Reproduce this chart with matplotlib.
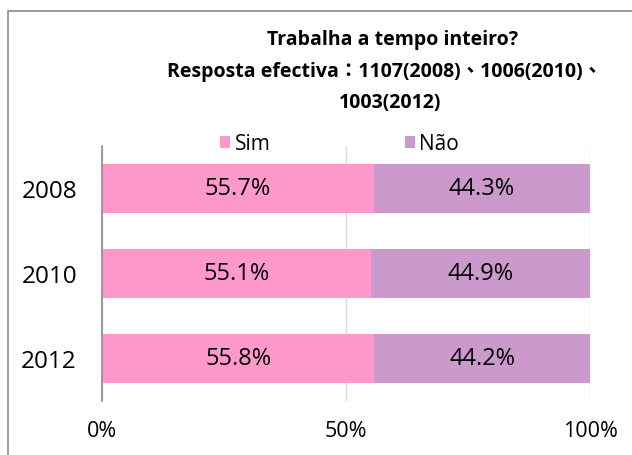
import matplotlib
matplotlib.use("Agg")
import matplotlib.pyplot as plt
from matplotlib.patches import Rectangle

plt.rcParams['font.family'] = ['Open Sans', 'Noto Sans CJK TC', 'DejaVu Sans']

years = ['2008', '2010', '2012']
sim = [55.7, 55.1, 55.8]
nao = [44.3, 44.9, 44.2]
sim_labels = ['55.7%', '55.1%', '55.8%']
nao_labels = ['44.3%', '44.9%', '44.2%']
ticks = [0, 50, 100]
tick_labels = ['0%', '50%', '100%']

c_sim = '#FF99CC'
c_nao = '#CC99CC'

fig = plt.figure(figsize=(6.32, 4.56), dpi=100)
# outer chart border (open to the right and bottom, as in the crop)
fig.patches.append(Rectangle((8/632, -0.1), 1.2, (456-12)/456 + 0.1,
                             transform=fig.transFigure, fill=False,
                             edgecolor='#8c8c8c', linewidth=1.2))

ax = fig.add_axes([102/632, 1-402/456, 488/632, 255/456])
pos = list(range(len(years)))
b1 = ax.barh(pos, sim, height=0.57, color=c_sim, label='Sim', zorder=2)
b2 = ax.barh(pos, nao, left=sim, height=0.57, color=c_nao, label='Não', zorder=2)
ax.bar_label(b1, labels=sim_labels, label_type='center', fontsize=17)
ax.bar_label(b2, labels=nao_labels, label_type='center', fontsize=17)

ax.set_xlim(0, 100)
ax.set_ylim(2.5, -0.5)
ax.set_yticks(pos)
ax.set_yticklabels(years, fontsize=17.5)
ax.set_xticks(ticks)
ax.set_xticklabels(tick_labels, fontsize=15.5)
ax.tick_params(length=0)
ax.tick_params(axis='x', pad=14)
ax.tick_params(axis='y', pad=18)
ax.xaxis.grid(True, color='#d9d9d9', linewidth=1, zorder=0)
ax.set_axisbelow(True)
for s in ['top', 'right', 'bottom']:
    ax.spines[s].set_visible(False)
ax.spines['left'].set_color('#8c8c8c')
ax.spines['left'].set_linewidth(1.2)
ax.spines['left'].set_zorder(3)

ax.legend(ncol=2, loc='center', bbox_to_anchor=(339.5/632, 1-145/456),
          bbox_transform=fig.transFigure, frameon=False, fontsize=15,
          handlelength=0.5, handleheight=0.5, handletextpad=0.2,
          columnspacing=6.45, borderpad=0)

fig.text(393/632, 1-40/456, 'Trabalha a tempo inteiro?', ha='center',
         va='center', fontsize=14, fontweight='bold')
fig.text(385/632, 1-72/456, 'Resposta efectiva：1107(2008)、1006(2010)、',
         ha='center', va='center', fontsize=14, fontweight='bold')
fig.text(390/632, 1-103/456, '1003(2012)', ha='center', va='center',
         fontsize=14, fontweight='bold')

fig.savefig('out.png', dpi=100, facecolor='white')
